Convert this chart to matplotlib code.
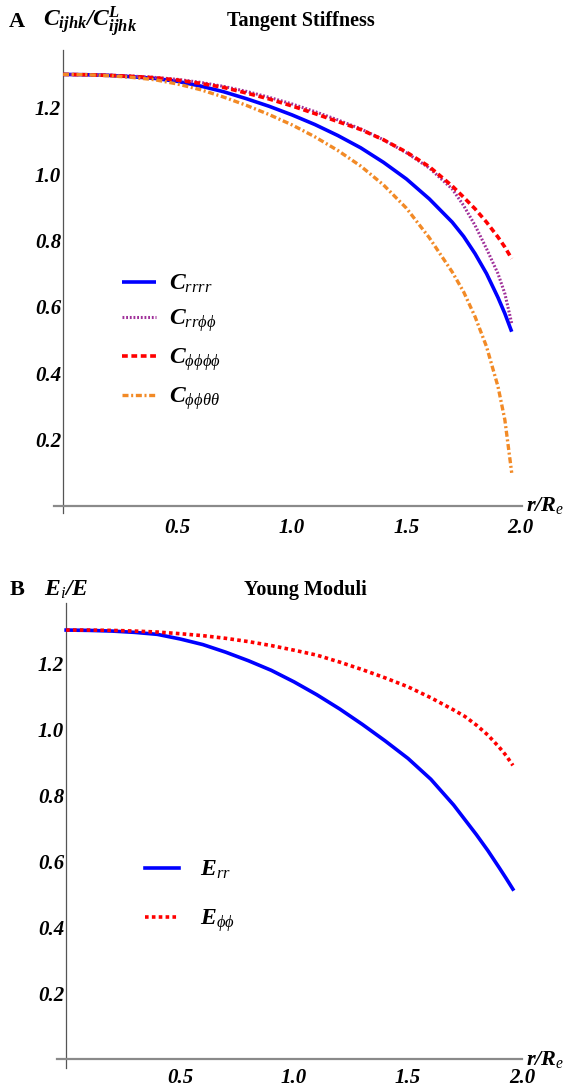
import matplotlib
matplotlib.use("Agg")
import matplotlib.pyplot as plt
from matplotlib.font_manager import FontProperties

plt.rcParams['mathtext.fontset'] = 'custom'
plt.rcParams['mathtext.rm'] = 'Liberation Serif:bold'
plt.rcParams['mathtext.it'] = 'Liberation Serif:italic'
plt.rcParams['mathtext.bf'] = 'Liberation Serif:bold:italic'

# ---------------- data ----------------
r_grid = [0.0, 0.1, 0.2, 0.3, 0.4, 0.5, 0.6, 0.7, 0.8, 0.9, 1.0, 1.1, 1.2, 1.3,
          1.4, 1.5, 1.6, 1.7, 1.75, 1.8, 1.85, 1.9, 1.93, 1.96]

C_rrrr = [1.300, 1.299, 1.297, 1.293, 1.288, 1.279, 1.265, 1.248, 1.227, 1.204,
          1.178, 1.149, 1.116, 1.079, 1.035, 0.985, 0.925, 0.855, 0.812, 0.760,
          0.700, 0.628, 0.580, 0.525]
C_rrpp = [1.300, 1.299, 1.298, 1.295, 1.291, 1.285, 1.276, 1.264, 1.249, 1.231,
          1.211, 1.188, 1.163, 1.136, 1.103, 1.064, 1.018, 0.955, 0.905, 0.845,
          0.775, 0.700, 0.640, 0.550]
C_pppp = [1.300, 1.299, 1.297, 1.294, 1.290, 1.283, 1.273, 1.261, 1.244, 1.226,
          1.205, 1.182, 1.158, 1.134, 1.103, 1.066, 1.022, 0.964, 0.930, 0.895,
          0.855, 0.810, 0.780, 0.745]
C_pptt = [1.300, 1.299, 1.296, 1.291, 1.284, 1.271, 1.254, 1.232, 1.207, 1.179,
          1.148, 1.112, 1.071, 1.024, 0.967, 0.897, 0.808, 0.705, 0.645, 0.570,
          0.480, 0.360, 0.260, 0.100]

E_rr = [1.300, 1.299, 1.297, 1.293, 1.287, 1.273, 1.256, 1.233, 1.207, 1.178,
        1.143, 1.104, 1.061, 1.014, 0.964, 0.911, 0.848, 0.770, 0.725, 0.680,
        0.632, 0.580, 0.548, 0.515]
E_pp = [1.300, 1.300, 1.299, 1.297, 1.294, 1.289, 1.283, 1.275, 1.265, 1.253,
        1.239, 1.224, 1.203, 1.180, 1.155, 1.128, 1.095, 1.058, 1.038, 1.012,
        0.982, 0.945, 0.920, 0.890]

x_ticks = [0.5, 1.0, 1.5, 2.0]
x_ticklabels = ['0.5', '1.0', '1.5', '2.0']
y_ticks = [0.2, 0.4, 0.6, 0.8, 1.0, 1.2]
y_ticklabels = ['0.2', '0.4', '0.6', '0.8', '1.0', '1.2']

labels_A = [r'$\mathbf{C}_{rrrr}$', r'$\mathbf{C}_{rr\phi\phi}$',
            r'$\mathbf{C}_{\phi\phi\phi\phi}$', r'$\mathbf{C}_{\phi\phi\theta\theta}$']
labels_B = [r'$\mathbf{E}_{rr}$', r'$\mathbf{E}_{\phi\phi}$']

# ---------------- figure ----------------
W, H = 569, 1090
fig = plt.figure(figsize=(W / 100, H / 100), dpi=100)

def fx(px):
    return px / W

def fy(py):
    return 1 - py / H

tick_fp = FontProperties(family='Liberation Serif', weight='bold', style='italic', size=15)

def setup_axes(ax, xlim, ylim, xpad):
    ax.set_xlim(*xlim)
    ax.set_ylim(*ylim)
    for s in ['top', 'right']:
        ax.spines[s].set_visible(False)
    ax.spines['left'].set_position(('data', 0))
    ax.spines['bottom'].set_position(('data', 0))
    ax.spines['left'].set_color('#555555')
    ax.spines['left'].set_linewidth(0.9)
    ax.spines['bottom'].set_color('#8a8a8a')
    ax.spines['bottom'].set_linewidth(1.6)
    ax.set_xticks(x_ticks)
    ax.set_xticklabels(x_ticklabels, fontproperties=tick_fp)
    ax.set_yticks(y_ticks)
    ax.set_yticklabels(y_ticklabels, fontproperties=tick_fp)
    ax.tick_params(axis='x', length=0, pad=xpad)
    ax.tick_params(axis='y', length=0, pad=1.5)
    ax.patch.set_visible(False)

# Panel A
axA = fig.add_axes([fx(54), fy(513), fx(522) - fx(54), fy(50) - fy(513)])
setup_axes(axA, (-0.04, 2.005), (-0.021, 1.3735), 8.5)
axA.plot(r_grid, C_rrrr, color='#0000ff', lw=2.6, solid_capstyle='butt', label=labels_A[0], zorder=3)
axA.plot(r_grid, C_rrpp, color='#a0309a', lw=2.2, ls=(0, (0.6, 0.6)), label=labels_A[1], zorder=4)
axA.plot(r_grid, C_pppp, color='#ff0000', lw=2.6, ls=(0, (1.6, 1.0)), label=labels_A[2], zorder=5)
axA.plot(r_grid, C_pptt, color='#f28a26', lw=2.4, ls=(0, (1.8, 0.8, 0.6, 0.8)), label=labels_A[3], zorder=6)
legA = axA.legend(loc='upper left', bbox_to_anchor=(fx(122), fy(271)),
                  bbox_transform=fig.transFigure, frameon=False, fontsize=17,
                  handlelength=1.45, handletextpad=0.55, labelspacing=0.45,
                  borderpad=0, borderaxespad=0)

# Panel B
axB = fig.add_axes([fx(57), fy(1068), fx(522) - fx(57), fy(603) - fy(1068)])
setup_axes(axB, (-0.04, 1.99), (-0.027, 1.382), 6.5)
axB.plot(r_grid, E_rr, color='#0000ff', lw=2.6, label=labels_B[0], zorder=3)
axB.plot(r_grid, E_pp, color='#ff0000', lw=2.6, ls=(0, (1.0, 0.9)), label=labels_B[1], zorder=4)
legB = axB.legend(loc='upper left', bbox_to_anchor=(fx(145), fy(857)),
                  bbox_transform=fig.transFigure, frameon=False, fontsize=17,
                  handlelength=1.45, handletextpad=0.9, labelspacing=1.05,
                  borderpad=0, borderaxespad=0)

# Titles and axis labels
title_fp = dict(family='Liberation Serif', weight='bold')
fig.text(fx(17), fy(22), 'A', ha='center', va='center', fontsize=16, **title_fp)
fig.text(fx(301), fy(21), 'Tangent Stiffness', ha='center', va='center', fontsize=14.5, **title_fp)
fig.text(fx(43), fy(22), r'$\mathbf{C_{ijhk}/C^{L}_{ijhk}}$', ha='left', va='center', fontsize=17)

fig.text(fx(17), fy(590), 'B', ha='center', va='center', fontsize=16, **title_fp)
fig.text(fx(305), fy(590), 'Young Moduli', ha='center', va='center', fontsize=14.5, **title_fp)
fig.text(fx(44), fy(589), r'$\mathbf{E}_{i}\mathbf{/E}$', ha='left', va='center', fontsize=17)

fig.text(fx(526), fy(506), r'$\mathbf{r/R}_{e}$', ha='left', va='center', fontsize=16)
fig.text(fx(526), fy(1059), r'$\mathbf{r/R}_{e}$', ha='left', va='center', fontsize=16)

fig.savefig('out.png', dpi=100)
